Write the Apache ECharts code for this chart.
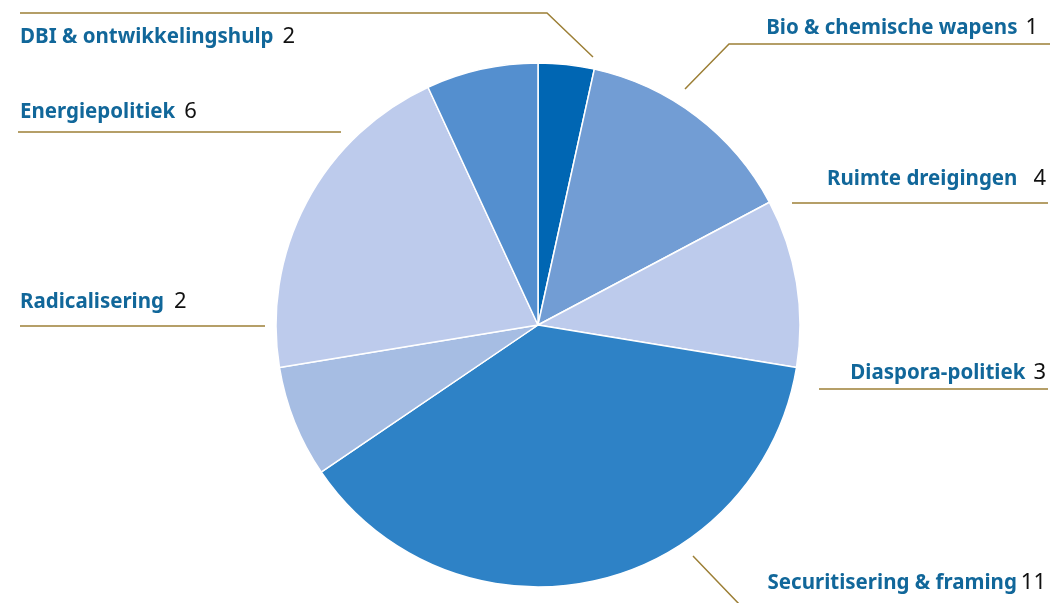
<!DOCTYPE html>
<html>
<head>
<meta charset="utf-8">
<script src="https://cdn.jsdelivr.net/npm/echarts@6/dist/echarts.min.js"></script>
<style>html,body{margin:0;padding:0;background:#fff}#c{width:1052px;height:603px}</style>
</head>
<body>
<div id="c"></div>
<script>
const categories = ['Bio & chemische wapens', 'Ruimte dreigingen', 'Diaspora-politiek', 'Securitisering & framing', 'Radicalisering', 'Energiepolitiek', 'DBI & ontwikkelingshulp'];
const values = [1, 4, 3, 11, 2, 6, 2];
const colors = ['#0066b3', '#729dd4', '#bdcbec', '#2e82c6', '#a6bde3', '#bdcbec', '#548fcf'];

// label placement (layout only)
const labelPos = [
  {x: 1038, y: 28, align: 'right', gap: 8, line: [[1050, 44], [729, 44], [685, 89]]},
  {x: 1046, y: 179, align: 'right', gap: 16, line: [[1048, 203], [920, 203], [792, 203]]},
  {x: 1046, y: 373, align: 'right', gap: 8, line: [[1048, 389], [930, 389], [819, 389]]},
  {x: 1046, y: 583, align: 'right', gap: 4, line: [[693, 556], [716, 580], [740, 605]]},
  {x: 20, y: 302, align: 'left', gap: 10, line: [[20, 326], [140, 326], [265, 326]]},
  {x: 20, y: 112, align: 'left', gap: 9, line: [[18, 132], [180, 132], [341, 132]]},
  {x: 20, y: 37, align: 'left', gap: 9, line: [[20, 13], [547, 13], [593, 57]]}
];

const chart = echarts.init(document.getElementById('c'));
chart.setOption({
  animation: false,
  series: [{
    type: 'pie',
    center: [538, 325],
    radius: 262,
    startAngle: 90,
    clockwise: true,
    data: categories.map((n, i) => ({name: n, value: values[i], itemStyle: {color: colors[i]}})),
    itemStyle: {borderColor: '#ffffff', borderWidth: 1.5},
    label: {
      show: true,
      formatter: p => '{n|' + p.name + '}{v' + p.dataIndex + '|' + p.value + '}',
      rich: Object.assign({
        n: {fontFamily: 'Noto Sans', fontWeight: 'bold', fontSize: 20.5, color: '#11679a'}
      }, Object.fromEntries(labelPos.map((lp, i) => ['v' + i, {fontFamily: 'Noto Sans', fontSize: 22, color: '#111111', padding: [0, 0, 0, lp.gap]}])))
    },
    labelLine: {show: true, smooth: false, lineStyle: {color: '#9c7f36', width: 1.5}},
    labelLayout: function (params) {
      const lp = labelPos[params.dataIndex];
      return {x: lp.x, y: lp.y, align: lp.align, verticalAlign: 'middle', labelLinePoints: lp.line};
    },
    emphasis: {disabled: true}
  }]
});
</script>
</body>
</html>
